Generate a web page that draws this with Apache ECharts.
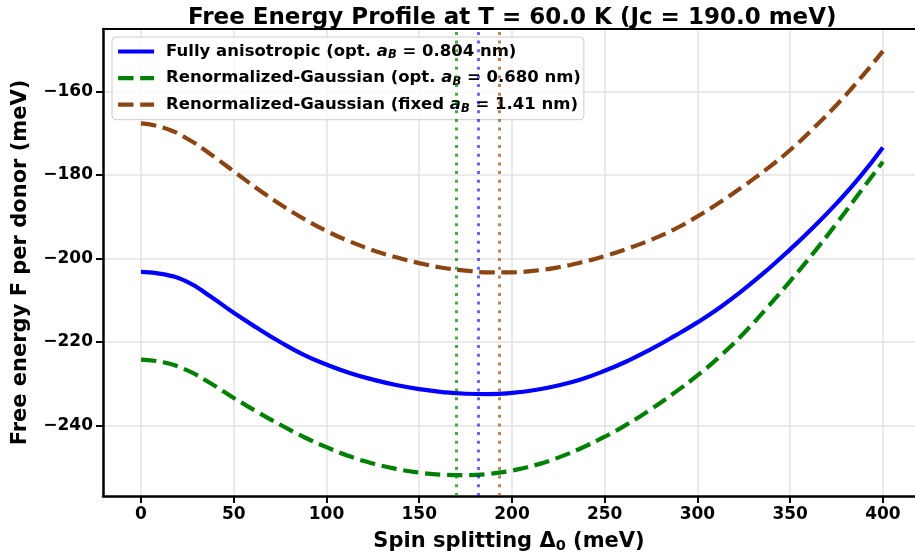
<!DOCTYPE html>
<html><head><meta charset="utf-8">
<script src="https://cdn.jsdelivr.net/npm/echarts@6/dist/echarts.min.js"></script>
<style>html,body{margin:0;padding:0;background:#fff}#c{width:915px;height:559px}</style>
</head><body><div id="c"></div>
<script>
// ---- data ----
const deltas = [0, 12.5, 25, 37.5, 50, 62.5, 75, 87.5, 100, 112.5, 125, 137.5, 150, 162.5, 175, 187.5, 200,
  212.5, 225, 237.5, 250, 262.5, 275, 287.5, 300, 312.5, 325, 337.5, 350, 362.5, 375, 387.5, 400];
const fullyAniso = [-203.2, -203.8, -205.6, -209.1, -213.0, -216.6, -220.0, -223.0, -225.4, -227.4, -229.0, -230.3,
  -231.3, -232.0, -232.4, -232.5, -232.2, -231.5, -230.4, -228.9, -226.9, -224.5, -221.7, -218.6, -215.3, -211.6,
  -207.4, -202.8, -197.8, -192.5, -186.8, -180.5, -173.4];
const rgOpt = [-224.2, -224.9, -226.8, -229.9, -233.4, -236.7, -239.8, -242.7, -245.2, -247.4, -249.1, -250.4,
  -251.3, -251.8, -251.9, -251.6, -250.8, -249.5, -247.7, -245.4, -242.7, -239.6, -236.1, -232.2, -228.0, -223.3,
  -217.9, -211.8, -205.4, -198.7, -191.6, -184.2, -176.8];
const rgFixed = [-167.6, -168.7, -171.3, -175.0, -179.1, -183.2, -187.0, -190.4, -193.4, -195.9, -198.0, -199.7,
  -201.1, -202.2, -202.9, -203.3, -203.3, -202.9, -202.1, -200.9, -199.4, -197.6, -195.5, -193.0, -189.9, -186.4,
  -182.6, -178.5, -174.0, -168.8, -163.2, -157.0, -150.3];
const optDeltas = [170, 182, 193];
const xTicks = [0, 50, 100, 150, 200, 250, 300, 350, 400];
const yTicks = [-240, -220, -200, -180, -160];
const seriesNames = [
  'Fully anisotropic (opt. a_B = 0.804 nm)',
  'Renormalized-Gaussian (opt. a_B = 0.680 nm)',
  'Renormalized-Gaussian (fixed a_B = 1.41 nm)'
];
const legendRich = {};
legendRich[seriesNames[0]] = '{t|Fully anisotropic (opt. }{m|a}{s|B}{t| = 0.804 nm)}';
legendRich[seriesNames[1]] = '{t|Renormalized-Gaussian (opt. }{m|a}{s|B}{t| = 0.680 nm)}';
legendRich[seriesNames[2]] = '{t|Renormalized-Gaussian (fixed }{m|a}{s|B}{t| = 1.41 nm)}';
const colors = ['#0000ff', '#008000', '#8b4513'];
const vColors = ['rgba(0,128,0,0.7)', 'rgba(0,0,255,0.6)', 'rgba(139,69,19,0.65)'];

const FONT = 'DejaVu Sans';
const pairs = arr => deltas.map((d, i) => [d, arr[i]]);
const dash = [15.4, 6.7];

const lineSeries = [fullyAniso, rgOpt, rgFixed].map((arr, i) => ({
  name: seriesNames[i],
  type: 'line',
  data: pairs(arr),
  smooth: 0.5,
  symbol: 'none',
  z: 3,
  lineStyle: { color: colors[i], width: 4.2, type: i === 0 ? 'solid' : dash, cap: 'butt' },
  itemStyle: { color: colors[i] }
}));

const vSeries = {
  name: 'opt',
  type: 'line',
  data: [],
  symbol: 'none',
  z: 4,
  markLine: {
    silent: true,
    symbol: ['none', 'none'],
    label: { show: false },
    animation: false,
    data: optDeltas.map((d, i) => ({
      xAxis: d,
      lineStyle: { color: vColors[i], width: 3, type: [3, 5.7] }
    }))
  }
};

const chart = echarts.init(document.getElementById('c'), null, { renderer: 'canvas' });
chart.setOption({
  animation: false,
  backgroundColor: '#fff',
  title: {
    text: 'Free Energy Profile at T = 60.0 K (Jc = 190.0 meV)',
    left: 183, top: 2,
    textStyle: { fontFamily: FONT, fontWeight: 'bold', fontSize: 23, color: '#000' }
  },
  grid: { left: 103, right: 0, top: 29, bottom: 63, containLabel: false },
  legend: {
    data: seriesNames,
    orient: 'vertical',
    left: 112, top: 37,
    itemWidth: 36, itemHeight: 0.1, itemGap: 8.1,
    padding: [6, 3, 5, 4],
    backgroundColor: 'rgba(255,255,255,0.8)',
    borderColor: '#cccccc', borderWidth: 1, borderRadius: 4,
    lineStyle: { width: 4.2 },
    formatter: name => legendRich[name],
    textStyle: {
      padding: [0, 0, 0, 7],
      rich: {
        t: { fontFamily: FONT, fontWeight: 'bold', fontSize: 16.5, color: '#000', lineHeight: 20 },
        m: { fontFamily: FONT, fontWeight: 'bold', fontStyle: 'italic', fontSize: 16.5, color: '#000', lineHeight: 20 },
        s: { fontFamily: FONT, fontWeight: 'bold', fontStyle: 'italic', fontSize: 11.5, color: '#000', lineHeight: 12, verticalAlign: 'bottom' }
      }
    }
  },
  xAxis: [{
    type: 'value', min: -20.5, max: 417.3,
    name: '{n|Spin splitting Δ}{s|0}{n| (meV)}',
    nameLocation: 'middle', nameGap: 34,
    nameTextStyle: {
      rich: {
        n: { fontFamily: FONT, fontWeight: 'bold', fontSize: 21, color: '#000', lineHeight: 24 },
        s: { fontFamily: FONT, fontWeight: 'bold', fontSize: 14.5, color: '#000', lineHeight: 14, verticalAlign: 'bottom' }
      }
    },
    axisLine: { show: true, onZero: false, lineStyle: { color: '#000', width: 2.5 } },
    axisTick: { show: true, length: 7, lineStyle: { color: '#000', width: 2 }, customValues: xTicks },
    axisLabel: { customValues: xTicks, margin: 10, fontFamily: FONT, fontWeight: 'bold', fontSize: 17, color: '#000' },
    splitLine: { show: true, lineStyle: { color: '#e3e3e3', width: 1.5 } }
  }, {
    type: 'value', position: 'top', min: -20.5, max: 417.3,
    axisLine: { show: true, onZero: false, lineStyle: { color: '#000', width: 2 } },
    axisTick: { show: false }, axisLabel: { show: false }, splitLine: { show: false }
  }],
  yAxis: {
    type: 'value', min: -256.9, max: -145.0,
    name: 'Free energy F per donor (meV)',
    nameLocation: 'middle', nameGap: 72,
    nameTextStyle: { fontFamily: FONT, fontWeight: 'bold', fontSize: 21, color: '#000' },
    axisLine: { show: true, onZero: false, lineStyle: { color: '#000', width: 2.5 } },
    axisTick: { show: true, length: 7, lineStyle: { color: '#000', width: 2 }, customValues: yTicks },
    axisLabel: {
      customValues: yTicks, margin: 10, fontFamily: FONT, fontWeight: 'bold', fontSize: 17, color: '#000',
      formatter: v => String(Math.round(v)).replace('-', '\u2212')
    },
    splitLine: { show: true, lineStyle: { color: '#e3e3e3', width: 1.5 } }
  },
  series: [...lineSeries, vSeries]
});
</script>
</body></html>
